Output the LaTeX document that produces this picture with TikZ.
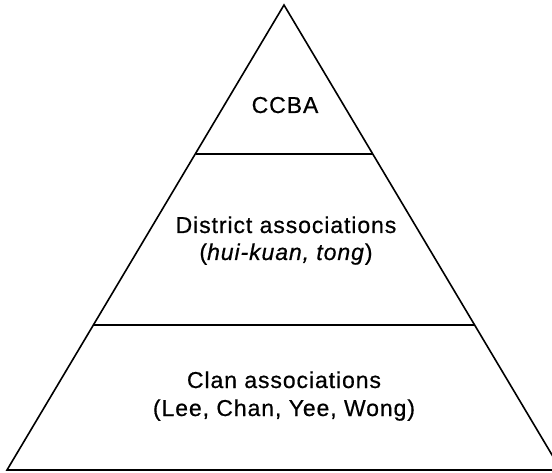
\documentclass[tikz,border=0pt]{standalone}
\usepackage{fontspec}
\setmainfont{Liberation Sans}[LetterSpace=4,FakeBold=0.6]
\begin{document}
\begin{tikzpicture}[x=1pt,y=1pt,
  edge/.style={line width=1.6pt,line join=miter},
  lbl/.style={font=\fontsize{23}{27}\selectfont,anchor=base,inner sep=0pt}]
\useasboundingbox (0,0) rectangle (552,472);
\clip (0,0) rectangle (552,472);
\coordinate (apex) at (284,467);
\coordinate (bl) at (7,2);
\coordinate (br) at (561,2);
\coordinate (l1a) at (196,318);
\coordinate (l1b) at (373,318);
\coordinate (l2a) at (94,147);
\coordinate (l2b) at (474,147);
\draw[edge] (apex) -- (bl) -- (br) -- cycle;
\draw[edge] (l1a) -- (l1b);
\draw[edge] (l2a) -- (l2b);
\node[lbl] (ccba) at (285,359) {CCBA};
\node[lbl] (dist1) at (286,239) {District associations};
\node[lbl] (dist2) at (286,212) {(\textit{hui-kuan, tong})};
\node[lbl] (clan1) at (284,84) {Clan associations};
\node[lbl] (clan2) at (284,56) {(Lee, Chan, Yee, Wong)};
\end{tikzpicture}
\end{document}
